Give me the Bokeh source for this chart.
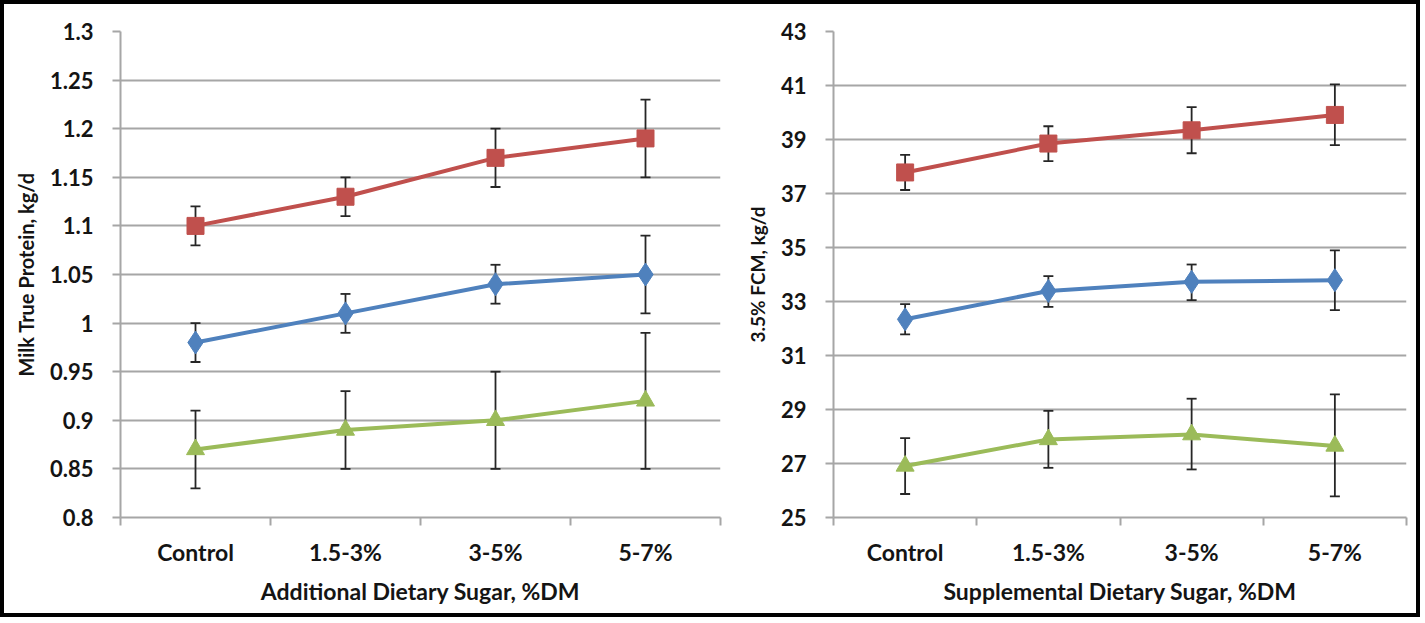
from bokeh.plotting import figure
from bokeh.layouts import row
from bokeh.models import FixedTicker, ColumnDataSource
from bokeh.embed import file_html
from bokeh.resources import INLINE

categories = ["Control", "1.5-3%", "3-5%", "5-7%"]
cat_pos = [0.5, 1.5, 2.5, 3.5]
cat_bounds = [0, 1, 2, 3, 4]

# Left panel: Milk True Protein, kg/d
prot_ticks = [0.8, 0.85, 0.9, 0.95, 1.0, 1.05, 1.1, 1.15, 1.2, 1.25, 1.3]
prot_tick_labels = ["0.8", "0.85", "0.9", "0.95", "1", "1.05", "1.1", "1.15", "1.2", "1.25", "1.3"]
prot_red = [1.10, 1.13, 1.17, 1.19]
prot_red_lo = [1.08, 1.11, 1.14, 1.15]
prot_red_hi = [1.12, 1.15, 1.20, 1.23]
prot_blue = [0.98, 1.01, 1.04, 1.05]
prot_blue_lo = [0.96, 0.99, 1.02, 1.01]
prot_blue_hi = [1.00, 1.03, 1.06, 1.09]
prot_green = [0.87, 0.89, 0.90, 0.92]
prot_green_lo = [0.83, 0.85, 0.85, 0.85]
prot_green_hi = [0.91, 0.93, 0.95, 0.99]

# Right panel: 3.5% FCM, kg/d
fcm_ticks = [25, 27, 29, 31, 33, 35, 37, 39, 41, 43]
fcm_red = [37.78, 38.85, 39.34, 39.91]
fcm_red_lo = [37.13, 38.20, 38.49, 38.79]
fcm_red_hi = [38.43, 39.49, 40.20, 41.04]
fcm_blue = [32.34, 33.39, 33.73, 33.79]
fcm_blue_lo = [31.78, 32.80, 33.05, 32.68]
fcm_blue_hi = [32.90, 33.94, 34.37, 34.89]
fcm_green = [26.91, 27.89, 28.07, 27.65]
fcm_green_lo = [25.87, 26.84, 26.78, 25.78]
fcm_green_hi = [27.94, 28.95, 29.40, 29.56]

RED = "#C0504D"
BLUE = "#4F81BD"
GREEN = "#9BBB59"
GRID = "#A6A6A6"
TEXT = "#141414"
FONT = "Lato"


def make_panel(width, height, borders, y_range, y_ticks, y_labels, x_title, y_title,
               y_title_size, x_standoffs, series):
    left, right, top, bottom = borders
    p = figure(width=width, height=height, x_range=(0, 4), y_range=y_range,
               output_backend="svg", toolbar_location=None,
               min_border_left=left, min_border_right=right,
               min_border_top=top, min_border_bottom=bottom)
    p.outline_line_color = None
    p.background_fill_color = "white"
    p.border_fill_color = "white"

    # x axis
    xa = p.xaxis[0]
    xa.ticker = FixedTicker(ticks=cat_pos, minor_ticks=cat_bounds)
    xa.major_label_overrides = {k: v for k, v in zip(cat_pos, categories)}
    xa.major_tick_line_color = None
    xa.major_tick_out = 0
    xa.major_tick_in = 0
    xa.minor_tick_line_color = GRID
    xa.minor_tick_line_width = 2
    xa.minor_tick_out = 8
    xa.minor_tick_in = 0
    xa.axis_line_color = GRID
    xa.axis_line_width = 2
    xa.major_label_text_font = FONT
    xa.major_label_text_font_style = "bold"
    xa.major_label_text_font_size = "23px"
    xa.major_label_text_color = TEXT
    xa.major_label_standoff = x_standoffs[0]
    xa.axis_label = x_title
    xa.axis_label_text_font = FONT
    xa.axis_label_text_font_style = "bold"
    xa.axis_label_text_font_size = "23px"
    xa.axis_label_text_color = TEXT
    xa.axis_label_standoff = x_standoffs[1]

    # y axis
    ya = p.yaxis[0]
    ya.ticker = FixedTicker(ticks=y_ticks, minor_ticks=[])
    if y_labels is not None:
        ya.major_label_overrides = {k: v for k, v in zip(y_ticks, y_labels)}
    ya.major_tick_line_color = GRID
    ya.major_tick_line_width = 2
    ya.major_tick_out = 8
    ya.major_tick_in = 0
    ya.axis_line_color = GRID
    ya.axis_line_width = 2
    ya.major_label_text_font = FONT
    ya.major_label_text_font_style = "bold"
    ya.major_label_text_font_size = "22px"
    ya.major_label_text_color = TEXT
    ya.major_label_standoff = 19
    ya.axis_label = y_title
    ya.axis_label_text_font = FONT
    ya.axis_label_text_font_style = "bold"
    ya.axis_label_text_font_size = y_title_size
    ya.axis_label_text_color = TEXT
    ya.axis_label_standoff = 9

    p.xgrid.grid_line_color = None
    p.ygrid.grid_line_color = GRID
    p.ygrid.grid_line_width = 2

    for vals, lo, hi, color, marker, size in series:
        src = ColumnDataSource(dict(x=cat_pos, y=vals, lo=lo, hi=hi))
        p.segment(x0="x", y0="lo", x1="x", y1="hi", source=src,
                  line_color="#262626", line_width=1.8)
        p.scatter(x="x", y="lo", source=src, marker="dash", size=10,
                  line_color="#262626", line_width=1.8)
        p.scatter(x="x", y="hi", source=src, marker="dash", size=10,
                  line_color="#262626", line_width=1.8)
        p.line(x="x", y="y", source=src, line_color=color, line_width=4)
        p.scatter(x="x", y="y", source=src, marker=marker, size=size,
                  fill_color=color, line_color=color)
    return p


p1 = make_panel(738, 609, (116, 22, 27, 96), (0.8, 1.3), prot_ticks, prot_tick_labels,
                "Additional Dietary Sugar, %DM", "Milk True Protein, kg/d", "20px", (12, 8),
                [(prot_red, prot_red_lo, prot_red_hi, RED, "square", 17),
                 (prot_blue, prot_blue_lo, prot_blue_hi, BLUE, "diamond", 23),
                 (prot_green, prot_green_lo, prot_green_hi, GREEN, "triangle", 18)])

p2 = make_panel(674, 609, (78, 10, 27, 96), (25, 43), fcm_ticks, None,
                "Supplemental Dietary Sugar, %DM", "3.5% FCM, kg/d", "19px", (12, 8),
                [(fcm_red, fcm_red_lo, fcm_red_hi, RED, "square", 17),
                 (fcm_blue, fcm_blue_lo, fcm_blue_hi, BLUE, "diamond", 23),
                 (fcm_green, fcm_green_lo, fcm_green_hi, GREEN, "triangle", 18)])

layout = row(p1, p2, styles={"border": "4px solid black", "background-color": "white"})

open("out.html", "w").write(file_html(layout, INLINE))
